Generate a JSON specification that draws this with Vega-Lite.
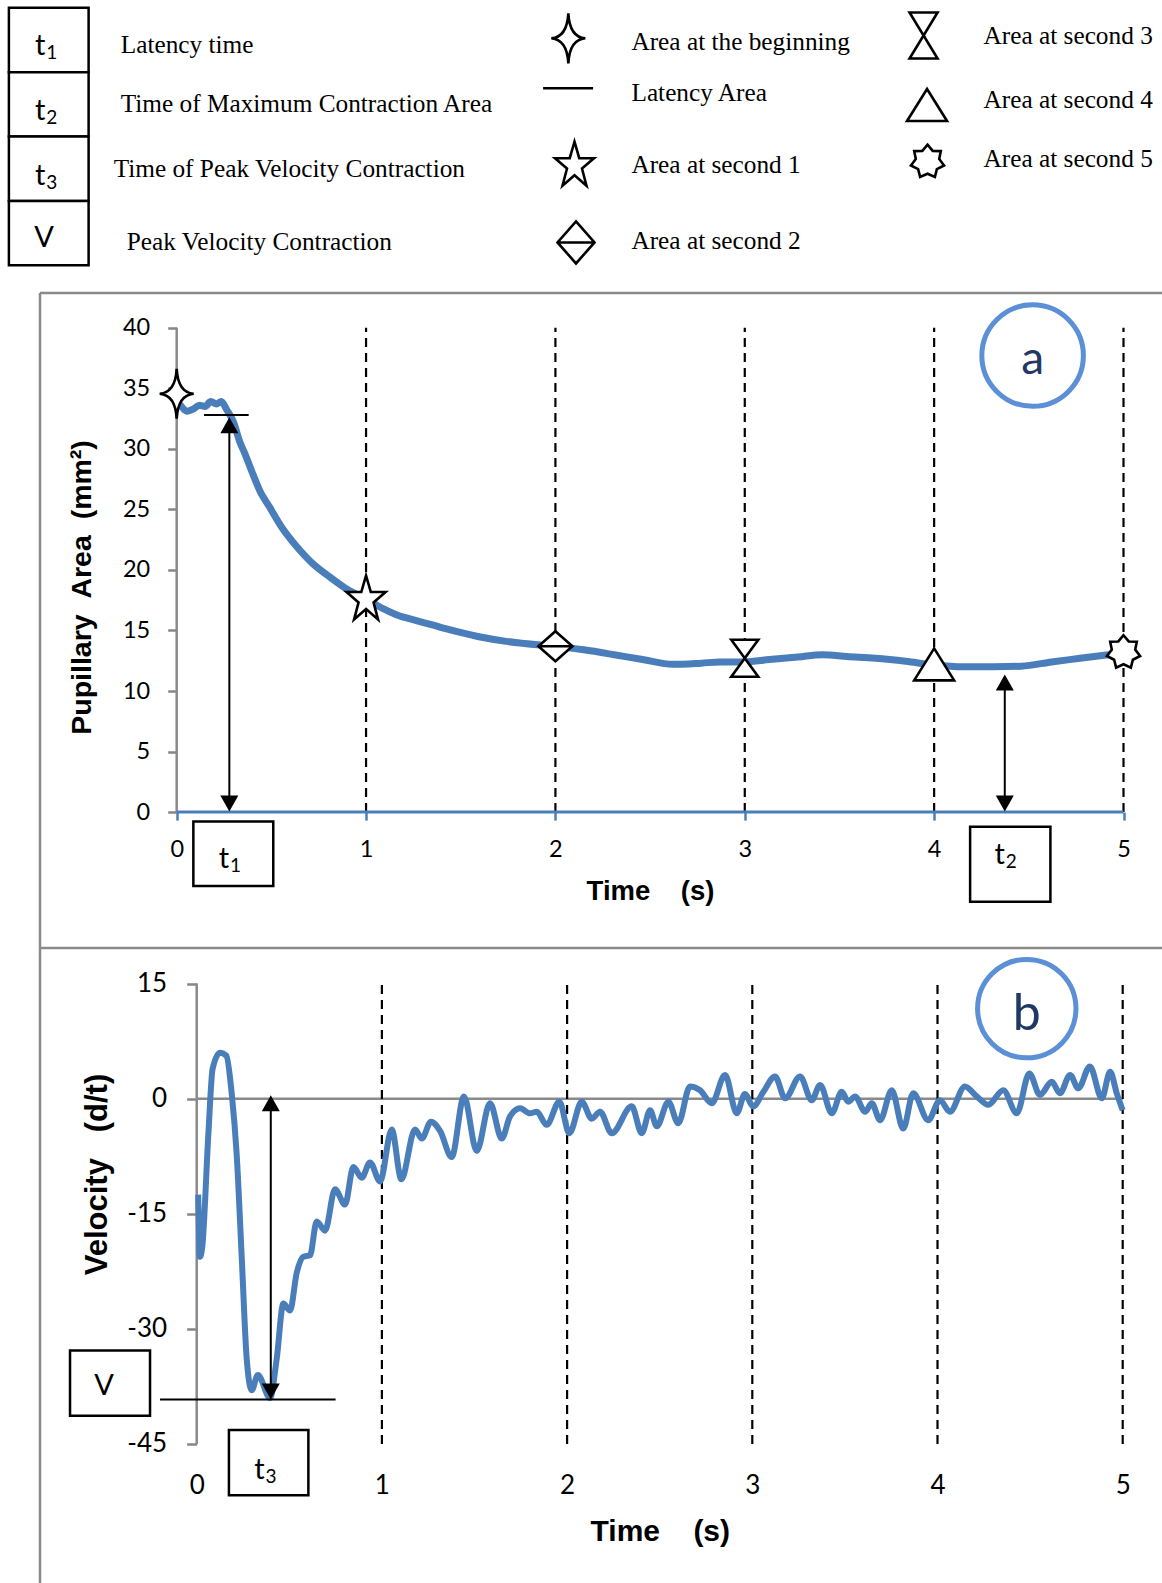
{
"$schema":"https://vega.github.io/schema/vega-lite/v6.json",
"background":"white",
"padding":0,
"spacing":0,
"bounds":"flush",
"config":{"view":{"stroke":null},"axis":{"grid":false}},
"resolve":{"scale":{"x":"independent","y":"independent","shape":"independent"}},
"vconcat":[
{
 "width":1162,"height":293,
 "encoding":{
  "x":{"field":"pos","type":"quantitative","scale":{"domain":[0,100],"nice":false,"zero":false},"axis":null},
  "y":{"field":"row","type":"quantitative","scale":{"domain":[0.379,4.929],"nice":false,"zero":false,"reverse":true},"axis":null}
 },
 "layer":[
  {"data":{"values":[{"pos":0.766,"pos2":7.625,"row":0.5,"row2":1.5},{"pos":0.766,"pos2":7.625,"row":1.5,"row2":2.5},{"pos":0.766,"pos2":7.625,"row":2.5,"row2":3.5},{"pos":0.766,"pos2":7.625,"row":3.5,"row2":4.5}]},
   "mark":{"type":"rect","fill":"white","stroke":"black","strokeWidth":2.5},
   "encoding":{"x2":{"field":"pos2"},"y2":{"field":"row2"}}},
  {"data":{"values":[{"pos":3.46,"row":1.233,"main":"t","sub":"1"},{"pos":3.46,"row":2.242,"main":"t","sub":"2"},{"pos":3.46,"row":3.252,"main":"t","sub":"3"},{"pos":3.79,"row":4.21,"main":"V","sub":""}]},
   "mark":{"type":"text","font":"Lato","fontSize":29,"align":"center","baseline":"alphabetic","color":"black"},
   "encoding":{"text":{"field":"main"}}},
  {"data":{"values":[{"pos":3.46,"row":1.233,"main":"t","sub":"1"},{"pos":3.46,"row":2.242,"main":"t","sub":"2"},{"pos":3.46,"row":3.252,"main":"t","sub":"3"},{"pos":3.79,"row":4.21,"main":"V","sub":""}]},
   "mark":{"type":"text","font":"Lato","fontSize":19,"align":"left","baseline":"alphabetic","dx":6,"dy":4,"color":"black"},
   "encoding":{"text":{"field":"sub"}}},
  {"data":{"values":[
    {"pos":10.39,"row":1.207,"label":"Latency time"},
    {"pos":10.39,"row":2.113,"label":"Time of Maximum Contraction Area"},
    {"pos":9.78,"row":3.122,"label":"Time of Peak Velocity Contraction"},
    {"pos":10.91,"row":4.261,"label":"Peak Velocity Contraction"},
    {"pos":54.34,"row":1.155,"label":"Area at the beginning"},
    {"pos":54.34,"row":1.947,"label":"Latency Area"},
    {"pos":54.34,"row":3.06,"label":"Area at second 1"},
    {"pos":54.34,"row":4.25,"label":"Area at second 2"},
    {"pos":84.64,"row":1.067,"label":"Area at second 3"},
    {"pos":84.64,"row":2.051,"label":"Area at second 4"},
    {"pos":84.64,"row":2.967,"label":"Area at second 5"}]},
   "mark":{"type":"text","font":"Liberation Serif","fontSize":25.3,"align":"left","baseline":"alphabetic","color":"black"},
   "encoding":{"text":{"field":"label"}}},
  {"data":{"values":[
    {"pos":48.91,"row":0.974,"marker":"begin"},
    {"pos":48.89,"row":1.75,"marker":"lat"},
    {"pos":49.44,"row":2.952,"marker":"s1"},
    {"pos":49.57,"row":4.144,"marker":"s2L"},
    {"pos":79.48,"row":0.93,"marker":"s3L"},
    {"pos":79.78,"row":2.009,"marker":"s4"},
    {"pos":79.82,"row":2.89,"marker":"s5"}]},
   "mark":{"type":"point","filled":true,"fill":"white","stroke":"black","strokeWidth":2.6,"opacity":1,"size":2500},
   "encoding":{"shape":{"field":"marker","type":"nominal","legend":null,"scale":{
     "domain":["begin","lat","s1","s2L","s3L","s4","s5"],
     "range":["M0,-1Q0.05,-0.05,0.68,0Q0.05,0.05,0,1Q-0.05,0.05,-0.68,0Q-0.05,-0.05,0,-1Z",
              "M-1,0L1,0",
              "M0,-0.96L0.19,-0.3L0.78,-0.3L0.3,0.115L0.48,0.8L0,0.38L-0.48,0.8L-0.3,0.115L-0.78,-0.3L-0.19,-0.3Z",
              "M0,-0.84L0.74,0L0,0.84L-0.74,0ZM-0.74,0L0.74,0",
              "M-0.56,-0.92L0.56,-0.92L0,0L0.56,0.92L-0.56,0.92L0,0Z",
              "M0,-0.64L0.8,0.64L-0.8,0.64Z",
              "M0,-0.68L0.208,-0.432L0.532,-0.424L0.468,-0.107L0.663,0.151L0.375,0.299L0.295,0.613L0,0.48L-0.295,0.613L-0.375,0.299L-0.663,0.151L-0.468,-0.107L-0.532,-0.424L-0.208,-0.432Z"]}}}}
 ]
},
{
 "width":1162,"height":655,
 "encoding":{
  "x":{"field":"t","type":"quantitative","scale":{"domain":[-0.9331,5.2033],"nice":false,"zero":false},
   "axis":{"values":[0,1,2,3,4,5],"domain":false,"grid":false,"ticks":true,"tickColor":"#4a7ebb","tickSize":8,"tickWidth":2.5,
    "labelFont":"Lato","labelFontSize":23.5,"labelColor":"black","labelBaseline":"middle","labelPadding":29,"labelFlush":false,"labelOverlap":false,"labelBound":false,
    "offset":-135.9,
    "title":"Time\u00a0\u00a0\u00a0\u00a0(s)","titleFont":"Liberation Sans","titleFontWeight":"bold","titleFontSize":27.5,"titleColor":"black","titleX":650,"titleY":79.7,"titleBaseline":"middle","titleAlign":"center","titleAngle":0}},
  "y":{"field":"v","type":"quantitative","scale":{"domain":[-11.222,42.866],"nice":false,"zero":false},
   "axis":{"values":[0,5,10,15,20,25,30,35,40],"domain":false,"grid":false,"tickColor":"#868686","tickSize":9,"tickWidth":2.5,
    "labelFont":"Lato","labelFontSize":23.5,"labelColor":"black","labelPadding":18,"labelOverlap":false,"labelFlush":false,"labelBound":false,
    "offset":-176.7,
    "title":"Pupillary\u00a0\u00a0Area\u00a0\u00a0(mm²)","titleFont":"Liberation Sans","titleFontWeight":"bold","titleFontSize":28.5,"titleColor":"black","titleX":-95.7,"titleY":294,"titleBaseline":"middle","titleAlign":"center","titleAngle":-90}}
 },
 "layer":[
  {"data":{"values":[{"t":-0.7219,"t2":-0.7219,"v":42.866,"v2":-11.222},{"t":-0.7219,"t2":5.2033,"v":42.866,"v2":42.866},{"t":0,"t2":0,"v":0,"v2":40}]},
   "mark":{"type":"rule","color":"#8a8a8a","strokeWidth":2.5},
   "encoding":{"x2":{"field":"t2"},"y2":{"field":"v2"}}},
  {"data":{"values":[{"t":1,"t2":1,"v":0,"v2":40},{"t":2,"t2":2,"v":0,"v2":40},{"t":3,"t2":3,"v":0,"v2":40},{"t":4,"t2":4,"v":0,"v2":40},{"t":5,"t2":5,"v":0,"v2":40}]},
   "mark":{"type":"rule","color":"black","strokeWidth":2.2,"strokeDash":[9,6]},
   "encoding":{"x2":{"field":"t2"},"y2":{"field":"v2"}}},
  {"data":{"values":[{"t":0,"t2":5,"v":0,"v2":0}]},
   "mark":{"type":"rule","color":"#4a7ebb","strokeWidth":3},
   "encoding":{"x2":{"field":"t2"},"y2":{"field":"v2"}}},
  {"data":{"values":[
    {"t":0.0,"v":34.0},{"t":0.03,"v":33.4},{"t":0.055,"v":33.1},{"t":0.09,"v":33.3},{"t":0.12,"v":33.6},{"t":0.15,"v":33.5},{"t":0.18,"v":33.9},{"t":0.21,"v":33.7},{"t":0.235,"v":33.9},{"t":0.265,"v":33.2},
    {"t":0.3,"v":32.2},{"t":0.335,"v":30.5},{"t":0.36,"v":29.6},{"t":0.39,"v":28.4},{"t":0.44,"v":26.5},{"t":0.49,"v":25.2},{"t":0.56,"v":23.4},{"t":0.63,"v":22.0},{"t":0.72,"v":20.5},{"t":0.81,"v":19.4},
    {"t":0.9,"v":18.4},{"t":1.0,"v":17.6},{"t":1.09,"v":16.8},{"t":1.16,"v":16.3},{"t":1.27,"v":15.8},{"t":1.34,"v":15.5},{"t":1.43,"v":15.1},{"t":1.59,"v":14.5},{"t":1.74,"v":14.1},{"t":1.92,"v":13.8},
    {"t":2.0,"v":13.7},{"t":2.15,"v":13.4},{"t":2.31,"v":13.0},{"t":2.46,"v":12.6},{"t":2.62,"v":12.2},{"t":2.77,"v":12.3},{"t":2.87,"v":12.4},{"t":3.0,"v":12.4},{"t":3.13,"v":12.6},{"t":3.28,"v":12.8},
    {"t":3.41,"v":13.0},{"t":3.54,"v":12.85},{"t":3.69,"v":12.7},{"t":3.85,"v":12.45},{"t":4.0,"v":12.15},{"t":4.15,"v":12.0},{"t":4.31,"v":12.0},{"t":4.46,"v":12.05},{"t":4.62,"v":12.4},{"t":4.77,"v":12.7},
    {"t":4.92,"v":13.0},{"t":4.97,"v":13.1}]},
   "mark":{"type":"line","color":"#4a7ebb","strokeWidth":7,"interpolate":"monotone"}},
  {"data":{"values":[{"t":0.144,"t2":0.38,"v":32.8,"v2":32.8},{"t":0.278,"t2":0.278,"v":1,"v2":32},{"t":4.373,"t2":4.373,"v":1,"v2":10.8}]},
   "mark":{"type":"rule","color":"black","strokeWidth":2},
   "encoding":{"x2":{"field":"t2"},"y2":{"field":"v2"}}},
  {"data":{"values":[{"t":0.278,"v":32.6},{"t":4.373,"v":11.36}]},
   "mark":{"type":"point","shape":"M0,0L-1,1.78L1,1.78Z","size":324,"filled":true,"color":"black","opacity":1}},
  {"data":{"values":[{"t":0.278,"v":0.05},{"t":4.373,"v":0.05}]},
   "mark":{"type":"point","shape":"M0,0L-1,-1.78L1,-1.78Z","size":324,"filled":true,"color":"black","opacity":1}},
  {"data":{"values":[
    {"t":0,"v":34.55,"marker":"begin"},{"t":1,"v":17.55,"marker":"s1"},{"t":2,"v":13.7,"marker":"s2"},{"t":3,"v":12.7,"marker":"s3"},{"t":4,"v":12.2,"marker":"s4"},{"t":5,"v":13.2,"marker":"s5"}]},
   "mark":{"type":"point","filled":true,"fill":"white","stroke":"black","strokeWidth":2.6,"opacity":1,"size":2500},
   "encoding":{"shape":{"field":"marker","type":"nominal","legend":null,"scale":{
     "domain":["begin","s1","s2","s3","s4","s5"],
     "range":["M0,-1Q0.05,-0.05,0.68,0Q0.05,0.05,0,1Q-0.05,0.05,-0.68,0Q-0.05,-0.05,0,-1Z",
              "M0,-0.96L0.19,-0.3L0.78,-0.3L0.3,0.115L0.48,0.8L0,0.38L-0.48,0.8L-0.3,0.115L-0.78,-0.3L-0.19,-0.3Z",
              "M0,-0.6L0.68,0L0,0.6L-0.68,0ZM-0.68,0L0.68,0",
              "M-0.54,-0.74L0.54,-0.74L0,0L0.54,0.74L-0.54,0.74L0,0Z",
              "M0,-0.64L0.8,0.64L-0.8,0.64Z",
              "M0,-0.68L0.208,-0.432L0.532,-0.424L0.468,-0.107L0.663,0.151L0.375,0.299L0.295,0.613L0,0.48L-0.295,0.613L-0.375,0.299L-0.663,0.151L-0.468,-0.107L-0.532,-0.424L-0.208,-0.432Z"]}}}},
  {"data":{"values":[{"t":0.088,"t2":0.51,"v":-0.78,"v2":-6.1},{"t":4.19,"t2":4.614,"v":-1.2,"v2":-7.4}]},
   "mark":{"type":"rect","fill":"white","stroke":"black","strokeWidth":2.5},
   "encoding":{"x2":{"field":"t2"},"y2":{"field":"v2"}}},
  {"data":{"values":[{"t":0.25,"v":-4.63,"main":"t","sub":"1"},{"t":4.346,"v":-4.31,"main":"t","sub":"2"}]},
   "mark":{"type":"text","font":"Lato","fontSize":29,"align":"center","baseline":"alphabetic","color":"black"},
   "encoding":{"text":{"field":"main"}}},
  {"data":{"values":[{"t":0.25,"v":-4.63,"main":"t","sub":"1"},{"t":4.346,"v":-4.31,"main":"t","sub":"2"}]},
   "mark":{"type":"text","font":"Lato","fontSize":19,"align":"left","baseline":"alphabetic","dx":6,"dy":4,"color":"black"},
   "encoding":{"text":{"field":"sub"}}},
  {"data":{"values":[{"t":4.52,"v":37.7}]},
   "mark":{"type":"point","shape":"circle","size":10315,"filled":false,"stroke":"#5b8fd6","strokeWidth":5,"opacity":1}},
  {"data":{"values":[{"t":4.52,"v":36.2,"label":"a"}]},
   "mark":{"type":"text","font":"Lato","fontSize":46,"align":"center","baseline":"alphabetic","color":"#1f3864"},
   "encoding":{"text":{"field":"label"}}}
 ]
},
{
 "width":1162,"height":635,
 "encoding":{
  "x":{"field":"t","type":"quantitative","scale":{"domain":[-1.0621,5.2122],"nice":false,"zero":false},
   "axis":{"values":[0,1,2,3,4,5],"domain":false,"grid":false,"ticks":false,"tickSize":0,
    "labelFont":"Lato","labelFontSize":26,"labelColor":"black","labelBaseline":"middle","labelPadding":40.7,"labelFlush":false,"labelOverlap":false,"labelBound":false,
    "offset":-138.7,
    "title":"Time\u00a0\u00a0\u00a0\u00a0(s)","titleFont":"Liberation Sans","titleFontWeight":"bold","titleFontSize":30,"titleColor":"black","titleX":659.8,"titleY":87.2,"titleBaseline":"middle","titleAlign":"center","titleAngle":0}},
  "y":{"field":"v","type":"quantitative","scale":{"domain":[-63.117,19.64],"nice":false,"zero":false},
   "axis":{"values":[15,0,-15,-30,-45],"domain":false,"grid":false,"tickColor":"#868686","tickSize":10,"tickWidth":2.5,
    "labelExpr":"datum.value < 0 ? '-' + abs(datum.value) : '' + datum.value",
    "labelFont":"Lato","labelFontSize":26,"labelColor":"black","labelPadding":20,"labelOverlap":false,"labelFlush":false,"labelBound":false,
    "offset":-196.7,
    "title":"Velocity\u00a0\u00a0\u00a0(d/t)","titleFont":"Liberation Sans","titleFontWeight":"bold","titleFontSize":31,"titleColor":"black","titleX":-99.7,"titleY":226,"titleBaseline":"middle","titleAlign":"center","titleAngle":-90}}
 },
 "layer":[
  {"data":{"values":[{"t":-0.8461,"t2":-0.8461,"v":19.64,"v2":-63.117},{"t":-0.8461,"t2":5.2122,"v":19.64,"v2":19.64},{"t":0,"t2":0,"v":-45,"v2":15},{"t":0,"t2":5,"v":0,"v2":0}]},
   "mark":{"type":"rule","color":"#8a8a8a","strokeWidth":2.5},
   "encoding":{"x2":{"field":"t2"},"y2":{"field":"v2"}}},
  {"data":{"values":[{"t":1,"t2":1,"v":-45,"v2":15},{"t":2,"t2":2,"v":-45,"v2":15},{"t":3,"t2":3,"v":-45,"v2":15},{"t":4,"t2":4,"v":-45,"v2":15},{"t":5,"t2":5,"v":-45,"v2":15}]},
   "mark":{"type":"rule","color":"black","strokeWidth":2.2,"strokeDash":[9,6]},
   "encoding":{"x2":{"field":"t2"},"y2":{"field":"v2"}}},
  {"data":{"values":[
    {"t":0.008,"v":-12.5},{"t":0.018,"v":-20.6},{"t":0.03,"v":-19.3},{"t":0.063,"v":-4.6},{"t":0.086,"v":3.9},{"t":0.126,"v":6.0},{"t":0.16,"v":5.6},{"t":0.189,"v":0.7},{"t":0.216,"v":-7.3},{"t":0.243,"v":-20.6},
    {"t":0.27,"v":-33.9},{"t":0.297,"v":-38.0},{"t":0.33,"v":-36.0},{"t":0.396,"v":-39.0},{"t":0.432,"v":-33.9},{"t":0.468,"v":-26.7},{"t":0.504,"v":-27.6},{"t":0.54,"v":-22.7},{"t":0.576,"v":-20.6},{"t":0.612,"v":-20.4},
    {"t":0.648,"v":-16.0},{"t":0.693,"v":-17.2},{"t":0.747,"v":-11.8},{"t":0.801,"v":-13.8},{"t":0.846,"v":-8.9},{"t":0.891,"v":-10.3},{"t":0.936,"v":-8.3},{"t":0.99,"v":-10.8},{"t":1.053,"v":-4.0},{"t":1.105,"v":-10.5},
    {"t":1.179,"v":-4.0},{"t":1.215,"v":-5.2},{"t":1.265,"v":-3.0},{"t":1.314,"v":-4.2},{"t":1.377,"v":-7.6},{"t":1.443,"v":0.3},{"t":1.512,"v":-6.8},{"t":1.584,"v":-0.6},{"t":1.647,"v":-5.2},{"t":1.692,"v":-2.3},
    {"t":1.746,"v":-1.25},{"t":1.8,"v":-1.9},{"t":1.836,"v":-1.7},{"t":1.89,"v":-3.4},{"t":1.958,"v":-0.4},{"t":2.012,"v":-4.5},{"t":2.079,"v":-0.4},{"t":2.133,"v":-2.6},{"t":2.178,"v":-1.7},{"t":2.241,"v":-4.5},
    {"t":2.349,"v":-1.0},{"t":2.403,"v":-4.5},{"t":2.448,"v":-1.5},{"t":2.484,"v":-3.6},{"t":2.547,"v":-0.4},{"t":2.6,"v":-3.2},{"t":2.664,"v":1.6},{"t":2.718,"v":1.1},{"t":2.781,"v":-0.6},{"t":2.853,"v":3.1},
    {"t":2.916,"v":-1.9},{"t":2.96,"v":0.6},{"t":3.005,"v":-1.0},{"t":3.06,"v":0.9},{"t":3.123,"v":2.9},{"t":3.177,"v":0.05},{"t":3.258,"v":2.9},{"t":3.321,"v":-0.2},{"t":3.366,"v":1.8},{"t":3.429,"v":-1.9},
    {"t":3.483,"v":0.9},{"t":3.518,"v":-0.4},{"t":3.555,"v":0.3},{"t":3.609,"v":-1.7},{"t":3.645,"v":-0.6},{"t":3.69,"v":-2.8},{"t":3.753,"v":1.1},{"t":3.815,"v":-3.9},{"t":3.869,"v":0.7},{"t":3.95,"v":-2.8},
    {"t":4.013,"v":-0.2},{"t":4.067,"v":-1.7},{"t":4.148,"v":1.6},{"t":4.212,"v":0.3},{"t":4.274,"v":-0.8},{"t":4.355,"v":1.1},{"t":4.428,"v":-1.9},{"t":4.496,"v":3.3},{"t":4.553,"v":0.5},{"t":4.617,"v":2.2},
    {"t":4.661,"v":0.7},{"t":4.716,"v":3.1},{"t":4.76,"v":1.35},{"t":4.823,"v":4.2},{"t":4.887,"v":0.05},{"t":4.932,"v":3.5},{"t":4.968,"v":0.7},{"t":5.0,"v":-1.5}]},
   "mark":{"type":"line","color":"#4a7ebb","strokeWidth":6,"interpolate":"monotone"}},
  {"data":{"values":[{"t":-0.198,"t2":0.75,"v":-39.19,"v2":-39.19},{"t":0.4,"t2":0.4,"v":-38.4,"v2":-0.4}]},
   "mark":{"type":"rule","color":"black","strokeWidth":2},
   "encoding":{"x2":{"field":"t2"},"y2":{"field":"v2"}}},
  {"data":{"values":[{"t":0.4,"v":0.44}]},
   "mark":{"type":"point","shape":"M0,0L-1,1.78L1,1.78Z","size":324,"filled":true,"color":"black","opacity":1}},
  {"data":{"values":[{"t":0.4,"v":-39.19}]},
   "mark":{"type":"point","shape":"M0,0L-1,-1.78L1,-1.78Z","size":324,"filled":true,"color":"black","opacity":1}},
  {"data":{"values":[{"t":-0.684,"t2":-0.252,"v":-32.8,"v2":-41.31},{"t":0.174,"t2":0.603,"v":-43.18,"v2":-51.69}]},
   "mark":{"type":"rect","fill":"white","stroke":"black","strokeWidth":2.5},
   "encoding":{"x2":{"field":"t2"},"y2":{"field":"v2"}}},
  {"data":{"values":[{"t":-0.5,"v":-38.65,"main":"V","sub":""},{"t":0.339,"v":-49.56,"main":"t","sub":"3"}]},
   "mark":{"type":"text","font":"Lato","fontSize":29,"align":"center","baseline":"alphabetic","color":"black"},
   "encoding":{"text":{"field":"main"}}},
  {"data":{"values":[{"t":-0.5,"v":-38.65,"main":"V","sub":""},{"t":0.339,"v":-49.56,"main":"t","sub":"3"}]},
   "mark":{"type":"text","font":"Lato","fontSize":19,"align":"left","baseline":"alphabetic","dx":6,"dy":4,"color":"black"},
   "encoding":{"text":{"field":"sub"}}},
  {"data":{"values":[{"t":4.482,"v":11.74}]},
   "mark":{"type":"point","shape":"circle","size":9677,"filled":false,"stroke":"#5b8fd6","strokeWidth":5,"opacity":1}},
  {"data":{"values":[{"t":4.482,"v":8.95,"label":"b"}]},
   "mark":{"type":"text","font":"Lato","fontSize":50,"align":"center","baseline":"alphabetic","color":"#1f3864"},
   "encoding":{"text":{"field":"label"}}}
 ]
}
]
}
